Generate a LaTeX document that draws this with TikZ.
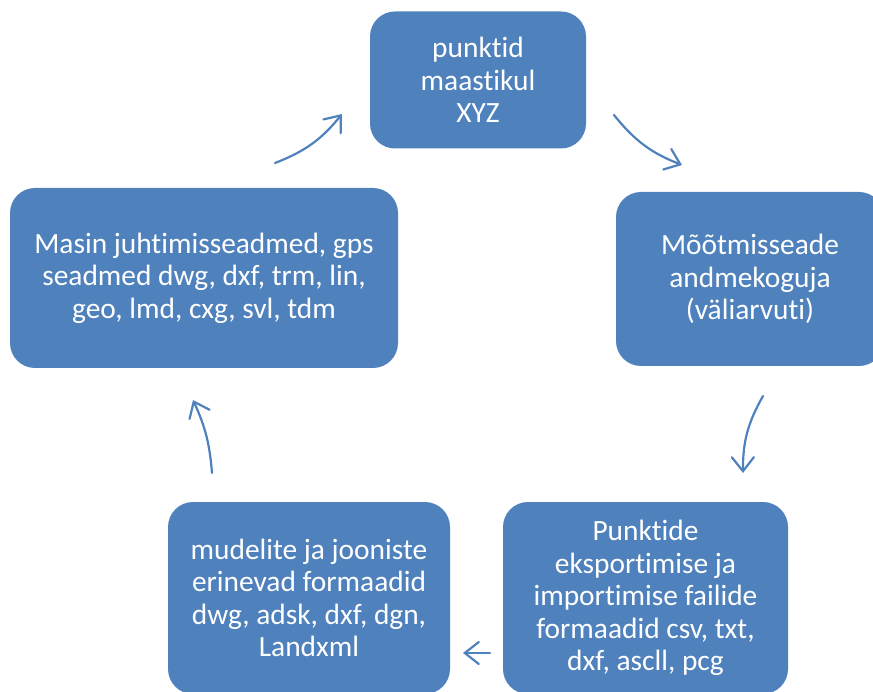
\documentclass[tikz,border=0pt]{standalone}
\usepackage{fontspec}
\setmainfont{Carlito}[Ligatures=NoCommon]
\usetikzlibrary{arrows.meta}
\definecolor{boxblue}{HTML}{4F81BD}
\tikzset{
  stage/.style={fill=boxblue, draw=none, rounded corners=25pt, text=white,
    align=center, inner sep=0pt,
    font=\fontsize{29.4}{32.5}\selectfont},
  cyclearrow/.style={draw=boxblue, line width=2.2pt, line cap=round,
    -{Straight Barb[length=14pt,width=22pt,line cap=round]}},
}
\begin{document}
\begin{tikzpicture}[x=1pt,y=-1pt]
\useasboundingbox (0,0) rectangle (873,692);
\clip (0,0) rectangle (873,692);

% stages of the workflow
\node[stage, minimum width=216pt, minimum height=137pt] (pts) at (478,80)
  {punktid\\maastikul\\XYZ};
\node[stage, minimum width=268pt, minimum height=174pt] (logger) at (750,279)
  {Mõõtmisseade\\andmekoguja\\(väliarvuti)};
\node[stage, minimum width=285pt, minimum height=192pt] (files) at (645.5,598)
  {Punktide\\eksportimise ja\\importimise failide\\formaadid csv, txt,\\dxf, ascll, pcg};
\node[stage, minimum width=282pt, minimum height=192pt] (models) at (309,598)
  {mudelite ja jooniste\\erinevad formaadid\\dwg, adsk, dxf, dgn,\\Landxml};
\node[stage, minimum width=388pt, minimum height=180pt] (machine) at (204,278)
  {Masin juhtimisseadmed, gps\\seadmed dwg, dxf, trm, lin,\\geo, lmd, cxg, svl, tdm};

% arrow end points between the stages
\coordinate (a1s) at (275,163);  \coordinate (a1e) at (342,114);
\coordinate (a2s) at (614,115);  \coordinate (a2e) at (682,165);
\coordinate (a3s) at (763,396);  \coordinate (a3e) at (743,473);
\coordinate (a4s) at (490,653);  \coordinate (a4e) at (463,653);
\coordinate (a5s) at (212,473);  \coordinate (a5e) at (193,400);

\draw[cyclearrow] (a1s) to[bend right=15] (a1e);
\draw[cyclearrow] (a2s) to[bend right=15] (a2e);
\draw[cyclearrow] (a3s) to[bend right=15] (a3e);
\draw[cyclearrow] (a4s) -- (a4e);
\draw[cyclearrow] (a5s) to[bend right=10] (a5e);
\end{tikzpicture}
\end{document}
